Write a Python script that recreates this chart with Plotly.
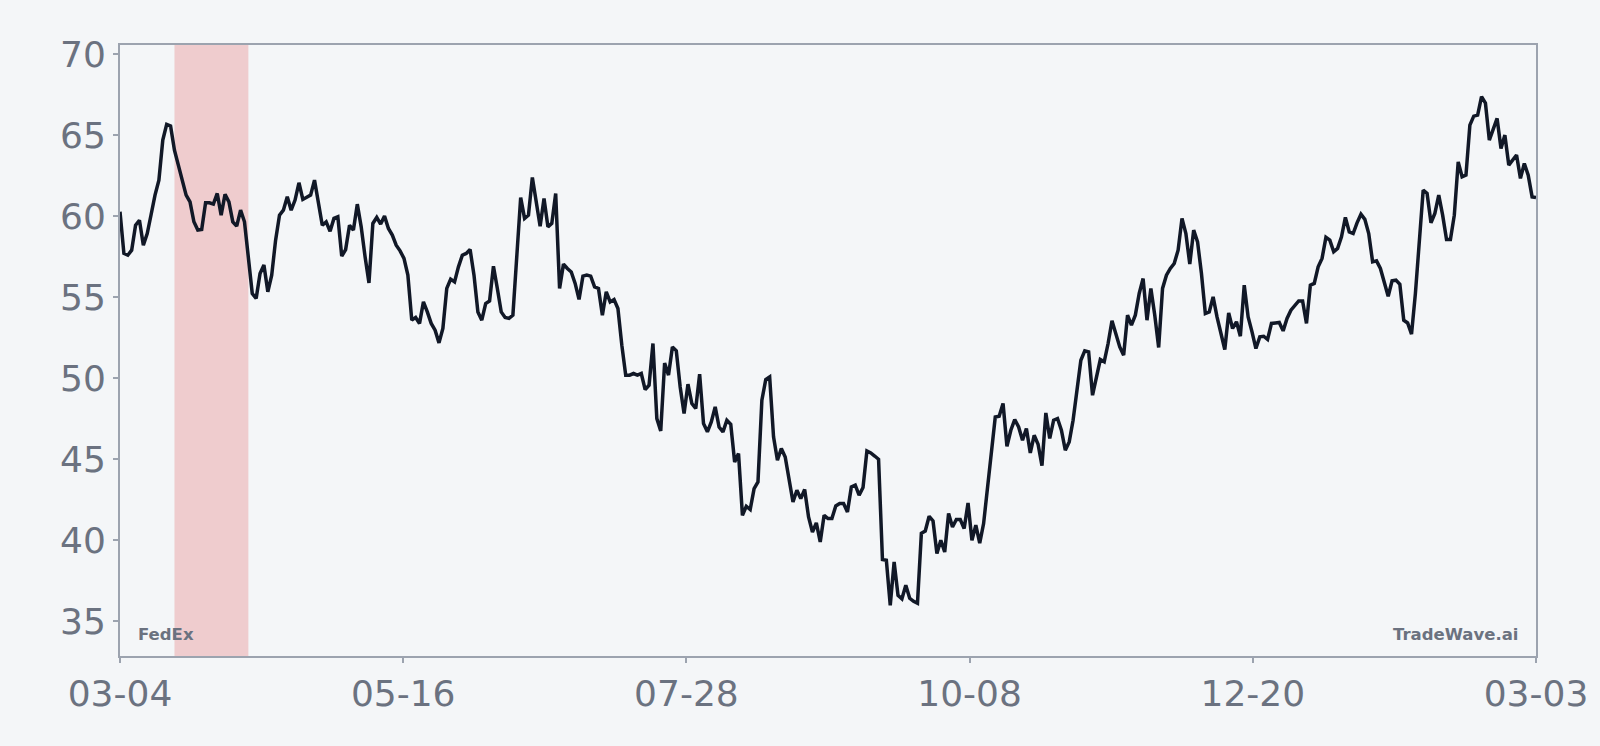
import pandas as pd
import plotly.graph_objects as go

# daily closing prices, 2024-03-04 .. 2025-03-03
start_date = "2024-03-04"
end_date = "2025-03-03"

close = [
    60.27, 57.70, 57.59, 57.90, 59.44, 59.75, 58.21, 58.93, 60.10, 61.30,
    62.22, 64.69, 65.66, 65.56, 64.07, 63.10, 62.22, 61.30, 60.88, 59.65,
    59.14, 59.18, 60.82, 60.82, 60.74, 61.40, 60.06, 61.34, 60.88, 59.65,
    59.38, 60.37, 59.65, 57.49, 55.23, 54.92, 56.46, 56.98, 55.33, 56.36,
    58.52, 60.06, 60.37, 61.19, 60.37, 60.99, 62.06, 61.03, 61.19, 61.30,
    62.22, 60.78, 59.44, 59.65, 59.07, 59.86, 59.96, 57.53, 57.94, 59.44,
    59.14, 60.74, 59.34, 57.49, 55.88, 59.55, 59.92, 59.51, 60.00, 59.24,
    58.83, 58.21, 57.86, 57.39, 56.36, 53.58, 53.75, 53.38, 54.71, 54.09,
    53.38, 52.96, 52.18, 53.07, 55.54, 56.11, 55.94, 56.87, 57.59, 57.70,
    57.94, 56.36, 54.09, 53.58, 54.61, 54.77, 56.91, 55.54, 54.09, 53.75,
    53.69, 53.89, 57.49, 61.15, 59.86, 60.06, 62.39, 60.88, 59.38, 61.09,
    59.34, 59.55, 61.40, 55.54, 57.04, 56.77, 56.56, 55.85, 54.86, 56.30,
    56.36, 56.30, 55.64, 55.54,
    53.89, 55.33, 54.71, 54.86, 54.30, 52.04, 50.19, 50.19, 50.29, 50.19,
    50.29, 49.30, 49.57, 52.14, 47.51, 46.75, 50.94, 50.19, 51.93, 51.69,
    49.46, 47.82, 49.63, 48.44, 48.13, 50.25, 47.20, 46.69, 47.30, 48.23,
    46.99, 46.69, 47.41, 47.16, 44.83, 45.35, 41.54, 42.10, 41.90, 43.19,
    43.60, 48.64, 49.92, 50.08, 46.38, 44.94, 45.66, 45.14, 43.60, 42.36,
    43.09, 42.57, 43.13, 41.44,
    40.51, 41.07, 39.90, 41.54, 41.34, 41.34, 42.12, 42.27, 42.27, 41.75,
    43.29, 43.40, 42.78, 43.25, 45.51, 45.39, 45.20, 45.00, 38.81, 38.77,
    35.99, 38.66, 36.60, 36.39, 37.22, 36.42, 36.23, 36.11, 40.43, 40.57,
    41.48, 41.19, 39.18, 40.00, 39.28, 41.65, 40.82, 41.28, 41.28, 40.72,
    42.30, 40.00, 40.93, 39.83, 41.03, 43.33, 45.51, 47.61, 47.65, 48.44,
    45.80, 46.79, 47.45, 46.99, 46.17, 46.90, 45.39, 46.48, 45.93, 44.60,
    47.86, 46.28, 47.41, 47.51, 46.79, 45.56, 46.07, 47.41, 49.26, 51.11,
    51.69, 51.62, 48.95, 49.98, 51.15, 51.01, 52.14, 53.54, 52.76, 51.93,
    51.42, 53.89, 53.27, 53.89, 55.23, 56.15, 53.58, 55.54, 53.89, 51.90,
    55.54, 56.36, 56.77, 57.08, 57.90, 59.86, 58.93, 57.04, 59.14, 58.41,
    56.46, 53.99, 54.09, 55.02, 53.78, 52.76, 51.77, 54.03, 53.07, 53.48,
    52.59, 55.74, 53.78, 52.86, 51.83, 52.55, 52.59, 52.39,
    53.38, 53.41, 53.44, 52.92, 53.69, 54.20, 54.51, 54.77, 54.77, 53.38,
    55.74, 55.85, 56.87, 57.39, 58.69, 58.52, 57.80, 58.01, 58.72, 59.92,
    59.03, 58.93, 59.59, 60.12, 59.80, 58.93, 57.18, 57.24, 56.77, 55.88,
    55.06, 56.01, 56.05, 55.80, 53.58, 53.41, 52.72, 55.23, 58.72, 61.60,
    61.40, 59.59, 60.17, 61.30, 60.06, 58.56, 58.56, 60.06, 63.35, 62.43,
    62.53, 65.62, 66.17, 66.23, 67.38, 66.98, 64.69, 65.41, 66.03, 64.18,
    65.00, 63.15, 63.46, 63.77, 62.33, 63.25, 62.53, 61.19, 61.15,
]

# highlighted window
shade_start = "2024-03-18"
shade_end = "2024-04-06"

y_ticks = [35, 40, 45, 50, 55, 60, 65, 70]
x_tick_labels = ["03-04", "05-16", "07-28", "10-08", "12-20", "03-03"]

_BG = "#f4f6f8"
_LINE = "#111827"
_AXIS = "#9ca3af"
_TEXT = "#6b7280"
_FONT = "DejaVu Sans"

dates = pd.date_range(start_date, end_date, periods=len(close))
x_ticks = pd.date_range(start_date, end_date, periods=len(x_tick_labels))

fig = go.Figure()

fig.add_vrect(
    x0=shade_start,
    x1=shade_end,
    fillcolor="rgba(220,38,38,0.2)",
    line_width=0,
    layer="below",
)

fig.add_trace(
    go.Scatter(
        x=dates,
        y=close,
        mode="lines",
        line={"color": _LINE, "width": 3.5},
        showlegend=False,
        hoverinfo="skip",
    )
)

axis_style = {
    "showline": True,
    "linecolor": _AXIS,
    "linewidth": 2,
    "mirror": True,
    "showgrid": False,
    "zeroline": False,
    "ticks": "outside",
    "ticklen": 5,
    "tickwidth": 1.5,
    "tickcolor": _AXIS,
    "tickfont": {"family": _FONT, "size": 36, "color": _TEXT},
}

fig.update_xaxes(
    range=[start_date, end_date],
    tickvals=x_ticks,
    ticktext=x_tick_labels,
    **axis_style,
)
fig.update_yaxes(
    range=[32.86, 70.56],
    tickvals=y_ticks,
    ticktext=[str(v) for v in y_ticks],
    **axis_style,
)

label_font = {"family": _FONT, "size": 16.5, "color": _TEXT, "weight": "bold"}
fig.add_annotation(
    text="FedEx",
    xref="paper",
    yref="paper",
    x=0.0113,
    y=0.017,
    xanchor="left",
    yanchor="bottom",
    showarrow=False,
    font=label_font,
)
fig.add_annotation(
    text="TradeWave.ai",
    xref="paper",
    yref="paper",
    x=0.9887,
    y=0.017,
    xanchor="right",
    yanchor="bottom",
    showarrow=False,
    font=label_font,
)

fig.update_layout(
    width=1600,
    height=746,
    margin={"l": 120, "r": 64, "t": 45, "b": 90},
    paper_bgcolor=_BG,
    plot_bgcolor=_BG,
    font={"family": _FONT, "color": _TEXT},
)

# drop the browser's default page margin so the figure fills the window
fig.write_html(
    "out.html",
    config={"displayModeBar": False},
    post_script="document.body.style.margin='0';document.body.style.overflow='hidden';",
)
